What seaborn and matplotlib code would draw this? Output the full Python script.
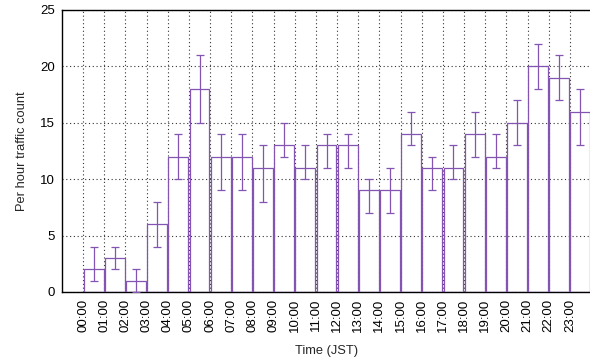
import matplotlib
matplotlib.use("Agg")
import matplotlib.pyplot as plt
import matplotlib.transforms as mtransforms
import numpy as np
import seaborn as sns

hours = ["00:00", "01:00", "02:00", "03:00", "04:00", "05:00", "06:00", "07:00",
         "08:00", "09:00", "10:00", "11:00", "12:00", "13:00", "14:00", "15:00",
         "16:00", "17:00", "18:00", "19:00", "20:00", "21:00", "22:00", "23:00"]
counts = [2, 3, 1, 6, 12, 18, 12, 12, 11, 13, 11, 13, 13, 9, 9, 14, 11, 11, 14, 12, 15, 20, 19, 16]
err_low = [1, 2, 0, 4, 10, 15, 9, 9, 8, 12, 10, 11, 11, 7, 7, 13, 9, 10, 12, 11, 13, 18, 17, 13]
err_high = [4, 4, 2, 8, 14, 21, 14, 14, 13, 15, 13, 14, 14, 10, 11, 16, 12, 13, 16, 14, 17, 22, 21, 18]
y_ticks = [0, 5, 10, 15, 20, 25]

sns.set_theme(style="white")
plt.rcParams["font.family"] = ["Liberation Sans", "DejaVu Sans"]

purple = "#8454b2"

fig = plt.figure(figsize=(5.9, 3.61), dpi=100)
ax = fig.add_axes([62 / 590, 69 / 361, 529 / 590, 282 / 361])

# each hour's box sits between two integer tick positions
centers = np.arange(len(hours)) + 0.5
sns.barplot(x=centers, y=counts, native_scale=True, width=0.94, fill=False,
            color=purple, linewidth=0.9, ax=ax, zorder=3)

yerr = np.array([np.array(counts) - np.array(err_low),
                 np.array(err_high) - np.array(counts)])
ax.errorbar(centers, counts, yerr=yerr, fmt="none", ecolor=purple,
            elinewidth=0.9, capsize=3, capthick=0.9, zorder=4)

ax.set_xlim(-1, 24)
ax.set_ylim(0, 25)
ax.set_yticks(y_ticks)
ax.set_xticks(np.arange(len(hours)))
ax.set_xticklabels(hours, rotation=90, ha="center", va="top", fontsize=9.5)
shift = mtransforms.ScaledTranslation(8 / 100, 0, fig.dpi_scale_trans)
for lbl in ax.get_xticklabels():
    lbl.set_transform(lbl.get_transform() + shift)
ax.tick_params(axis="y", labelsize=9.5, direction="in", length=3, pad=5, colors="black")
ax.tick_params(axis="x", direction="in", length=3, pad=5, colors="black")

ax.grid(True, which="major", color="#333333", linestyle=(0, (1, 2.4)), linewidth=0.8)
ax.set_axisbelow(True)

for side in ["left", "bottom", "top"]:
    ax.spines[side].set_visible(True)
    ax.spines[side].set_color("black")
    ax.spines[side].set_linewidth(1.0)
ax.spines["right"].set_visible(False)

ax.set_xlabel("Time (JST)", fontsize=9.3, labelpad=9)
ax.set_ylabel("Per hour traffic count", fontsize=9.3, labelpad=9)

fig.savefig("out.png", dpi=100)
